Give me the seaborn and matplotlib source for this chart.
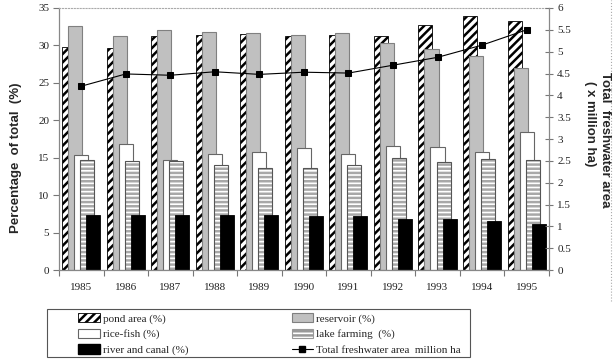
import numpy as np
import pandas as pd
import matplotlib
matplotlib.use("Agg")
import matplotlib.pyplot as plt
import seaborn as sns
from matplotlib.ticker import FuncFormatter
from matplotlib.lines import Line2D
from matplotlib.patches import Patch, Rectangle

# data
years = [1985, 1986, 1987, 1988, 1989, 1990, 1991, 1992, 1993, 1994, 1995]
pond = [29.8, 29.7, 31.3, 31.4, 31.5, 31.3, 31.4, 31.3, 32.7, 33.9, 33.3]
reservoir = [32.6, 31.3, 32.1, 31.8, 31.6, 31.4, 31.7, 30.3, 29.5, 28.6, 27.0]
rice_fish = [15.4, 16.9, 14.7, 15.5, 15.8, 16.3, 15.5, 16.6, 16.4, 15.8, 18.4]
lake = [14.7, 14.6, 14.5, 14.0, 13.6, 13.6, 14.0, 14.9, 14.4, 14.8, 14.7]
river = [7.4, 7.3, 7.3, 7.4, 7.4, 7.25, 7.25, 6.85, 6.85, 6.6, 6.1]
total_area = [4.21, 4.49, 4.46, 4.54, 4.48, 4.53, 4.51, 4.69, 4.87, 5.15, 5.50]

labels = ["pond area (%)", "reservoir (%)", "rice-fish (%)", "lake farming  (%)",
          "river and canal (%)", "Total freshwater area  million ha"]

sns.set_style("white")
plt.rcParams["hatch.linewidth"] = 1.8
serif = ["Liberation Serif", "DejaVu Serif"]

fig = plt.figure(figsize=(6.13, 3.63), dpi=100)
ax = fig.add_axes([0.0963, 0.256, 0.799, 0.722])

w = 0.315
step = 0.135
x = np.array(years, dtype=float)

styles = [
    (pond, dict(color="white", edgecolor="black", hatch="////", linewidth=0.6)),
    (reservoir, dict(color="#c0c0c0", edgecolor="#808080", linewidth=0.8)),
    (rice_fish, dict(color="white", edgecolor="#666666", linewidth=0.8)),
    (lake, dict(color="white", edgecolor="#a8a8a8", hatch="----", linewidth=0)),
    (river, dict(color="black", edgecolor="black", linewidth=0.6)),
]

for i, (vals, kw) in enumerate(styles):
    pos = x + (i - 2) * step
    sns.barplot(x=pos, y=vals, native_scale=True, width=w, errorbar=None, ax=ax, **kw)
    if i == 3:
        # dark outline on top of the striped fill
        sns.barplot(x=pos, y=vals, native_scale=True, width=w, errorbar=None, ax=ax,
                    fill=False, edgecolor="#555555", linewidth=0.8)

ax.set_xlim(1984.5, 1995.5)
ax.set_ylim(0, 35)
ax.set_yticks(range(0, 36, 5))
ax.set_xticks(np.arange(1984.5, 1996, 1))
ax.set_xticklabels([])
ax.set_xticks(years, minor=True)
ax.set_xticklabels([str(y) for y in years], minor=True, fontfamily=serif, fontsize=8)
ax.tick_params(axis="x", which="major", direction="out", length=4, color="#777777", bottom=True)
ax.tick_params(axis="x", which="minor", length=0, pad=9, labelcolor="#222222")
ax.tick_params(axis="y", direction="out", length=4, color="#777777", left=True, labelsize=8,
               labelcolor="#222222", pad=3)
for t in ax.get_yticklabels():
    t.set_fontfamily(serif)
ax.set_xlabel("")
ax.set_ylabel("Percentage  of total  (%)", fontfamily="Liberation Sans", fontweight="bold",
              fontsize=9.5)
ax.yaxis.set_label_coords(-0.075, 0.43)
for s in ["left", "bottom"]:
    ax.spines[s].set_color("#888888")
    ax.spines[s].set_linewidth(0.9)
ax.spines["top"].set_color("#aaaaaa")
ax.spines["top"].set_linestyle(":")
ax.spines["top"].set_linewidth(0.8)
ax.spines["right"].set_visible(False)

ax2 = ax.twinx()
sns.lineplot(x=years, y=total_area, marker="s", markersize=5, color="black",
             linewidth=0.8, markeredgecolor="black", ax=ax2)
ax2.set_ylim(0, 6)
ax2.set_yticks(np.arange(0, 6.01, 0.5))
ax2.yaxis.set_major_formatter(FuncFormatter(lambda v, p: "%g" % v))
ax2.tick_params(axis="y", direction="inout", length=6, color="#777777", right=True,
                labelsize=8, labelcolor="#222222", pad=3)
for t in ax2.get_yticklabels():
    t.set_fontfamily(serif)
for s in ["left", "bottom", "top"]:
    ax2.spines[s].set_visible(False)
ax2.spines["right"].set_color("#888888")
ax2.spines["right"].set_linewidth(0.9)
ax2.set_ylabel("")

# right-hand axis title, two lines placed separately as in the original
fig.text(605 / 613, 1 - 140 / 363, "Total  freshwater area", rotation=270,
         ha="center", va="center", fontfamily="Liberation Sans", fontweight="bold",
         fontsize=9.5)
fig.text(590 / 613, 1 - 124 / 363, "( x million ha)", rotation=270,
         ha="center", va="center", fontfamily="Liberation Sans", fontweight="bold",
         fontsize=9.5)

# legend
handles = [
    Patch(facecolor="white", edgecolor="black", hatch="////", linewidth=0.6),
    Patch(facecolor="#c0c0c0", edgecolor="#808080", linewidth=0.8),
    Patch(facecolor="white", edgecolor="#666666", linewidth=0.8),
    Patch(facecolor="white", edgecolor="#999999", hatch="----", linewidth=0.8),
    Patch(facecolor="black", edgecolor="black"),
    Line2D([0], [0], color="black", marker="s", markersize=4, linewidth=0.8),
]
order = [0, 2, 4, 1, 3, 5]
leg = fig.legend([handles[i] for i in order], [labels[i] for i in order],
                 loc="upper left", bbox_to_anchor=(0.128, 0.138), ncol=2, frameon=False,
                 prop={"family": serif, "size": 8}, handlelength=1.9, handleheight=0.9,
                 handletextpad=0.3, columnspacing=9.3, labelspacing=0.45,
                 borderaxespad=0, borderpad=0)
fig.patches.append(Rectangle((0.077, 0.0165), 0.69, 0.132, transform=fig.transFigure,
                             fill=False, edgecolor="#555555", linewidth=0.8))
fig.lines.append(Line2D([0.997, 0.997], [0.17, 1.0], transform=fig.transFigure,
                        color="#aaaaaa", linestyle=":", linewidth=0.8))

fig.savefig("out.png", dpi=100)
